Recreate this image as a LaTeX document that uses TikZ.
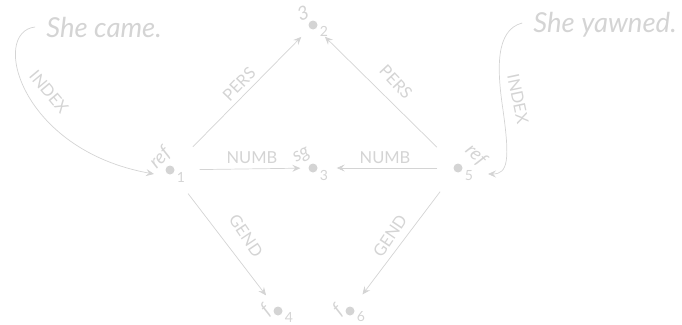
\documentclass[tikz,border=0pt]{standalone}
\usepackage{fontspec}
\setmainfont{Lato}
\usetikzlibrary{arrows.meta}
\definecolor{fg}{RGB}{212,212,212}
\begin{document}
\begin{tikzpicture}[x=1pt,y=-1pt,
  dot/.style={circle,fill=fg,inner sep=0pt,minimum size=9pt},
  val/.style={text=fg,font=\fontsize{19}{19}\selectfont\itshape,inner sep=0pt},
  sub/.style={text=fg,font=\fontsize{14}{14}\selectfont,inner sep=0pt},
  elab/.style={text=fg,font=\fontsize{16.5}{16.5}\selectfont,inner sep=0pt},
  sent/.style={text=fg,font=\fontsize{27.5}{27.5}\selectfont\itshape,inner sep=0pt},
  arc/.style={draw=fg,line width=0.7pt,-{Stealth[length=8pt,width=7pt,inset=3pt]}}]
\useasboundingbox (0,0) rectangle (682,324);
% nodes
\node[dot] (n1) at (170,170) {};
\node[dot] (n2) at (313,25) {};
\node[dot] (n3) at (313,168) {};
\node[dot] (n4) at (278,311) {};
\node[dot] (n5) at (458,168) {};
\node[dot] (n6) at (350,311) {};
% values
\node[val,rotate=45] (v1) at (160,158) {ref};
\node[val,rotate=20] (v2) at (303,13) {3};
\node[val,rotate=30] (v3) at (302,156) {sg};
\node[val,rotate=45] (v4) at (266,310) {f};
\node[val,rotate=-45] (v5) at (476,155) {ref};
\node[val,rotate=45] (v6) at (338,310) {f};
% subscripts
\node[sub] (s1) at (181,177) {1};
\node[sub] (s2) at (324,31) {2};
\node[sub] (s3) at (324,175) {3};
\node[sub] (s4) at (289,317) {4};
\node[sub] (s5) at (469,176) {5};
\node[sub] (s6) at (361,317) {6};
% sentences
\node[sent] (c) at (104,27) {She came.};
\node[sent] (y) at (605,25) {She yawned.};
% edges
\draw[arc,shorten <=28pt,shorten >=12pt] (n1) -- (n2);
\draw[arc,shorten <=25pt,shorten >=12pt] (n5) -- (n2);
\draw[arc,shorten <=25pt,shorten >=8pt] (n1) -- (n3);
\draw[arc,shorten <=16pt,shorten >=19pt] (n5) -- (n3);
\draw[arc,shorten <=25pt,shorten >=15pt] (n1) -- (n4);
\draw[arc,shorten <=25pt,shorten >=16pt] (n5) -- (n6);
\node[elab,rotate=46] (l1) at (239,84) {PERS};
\node[elab,rotate=-47] (l2) at (396,82) {PERS};
\node[elab] (l3) at (252,158) {NUMB};
\node[elab] (l4) at (385,158) {NUMB};
\node[elab,rotate=-56] (l5) at (246,236) {GEND};
\node[elab,rotate=56] (l6) at (390,236) {GEND};
% index arcs
\coordinate (e1) at (154,174);
\coordinate (e5) at (488,174);
\draw[arc] ([xshift=-11pt]c.west) .. controls (-10,32) and (20,150) .. (e1);
\draw[arc] ([xshift=-11pt,yshift=2pt]y.west) .. controls (495,30) and (497,70) .. (503,110) .. controls (510,160) and (508,174) .. (e5);
\node[elab,rotate=-50] (i1) at (49,92) {INDEX};
\node[elab,rotate=-78] (i2) at (518,99) {INDEX};
\end{tikzpicture}
\end{document}
